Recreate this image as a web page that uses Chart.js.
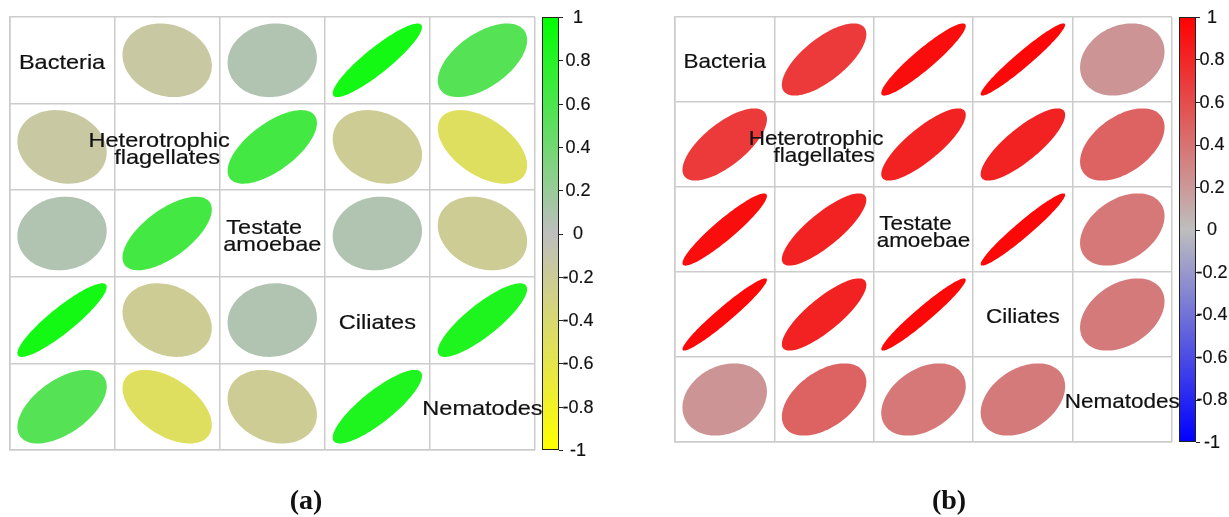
<!DOCTYPE html>
<html>
<head>
<meta charset="utf-8">
<script src="https://cdn.jsdelivr.net/npm/chart.js@4/dist/chart.umd.min.js"></script>
<style>
  body { margin: 0; background: #fff; width: 1229px; height: 517px; overflow: hidden; position: relative; }
  .panel { position: absolute; top: 0; height: 517px; }
  .tag { position: absolute; top: 484px; font: bold 28px "Liberation Serif", "DejaVu Serif", serif; color: #111; transform: translateX(-50%); }
</style>
</head>
<body>
<div class="panel" style="left:0;width:614px"><canvas id="chartA" width="614" height="517"></canvas></div>
<div class="panel" style="left:614px;width:615px"><canvas id="chartB" width="615" height="517"></canvas></div>
<div class="tag" style="left:306px">(a)</div>
<div class="tag" style="left:949px">(b)</div>
<script>
const names = ['Bacteria', 'Heterotrophic\nflagellates', 'Testate\namoebae', 'Ciliates', 'Nematodes'];

// correlation matrices, rows/cols in the order of names
const corrA = [
  [1, -0.15, 0.07, 0.9, 0.55],
  [-0.15, 1, 0.65, -0.22, -0.5],
  [0.07, 0.65, 1, 0.07, -0.22],
  [0.9, -0.22, 0.07, 1, 0.84],
  [0.55, -0.5, -0.22, 0.84, 1]
];
const corrB = [
  [1, 0.7, 0.93, 0.96, 0.22],
  [0.7, 1, 0.82, 0.82, 0.48],
  [0.93, 0.82, 1, 0.96, 0.37],
  [0.96, 0.82, 0.96, 1, 0.36],
  [0.22, 0.48, 0.37, 0.36, 1]
];

const legendTicks = [1, 0.8, 0.6, 0.4, 0.2, 0, -0.2, -0.4, -0.6, -0.8, -1];
const legendLabels = ['1', '0.8', '0.6', '0.4', '0.2', '0', '-0.2', '-0.4', '-0.6', '-0.8', '-1'];

const MID = [190, 190, 190];

function corrColor(r, neg, pos) {
  const end = r >= 0 ? pos : neg;
  const t = Math.min(1, Math.abs(r));
  const c = MID.map((m, k) => Math.round(m + (end[k] - m) * t));
  return `rgb(${c[0]},${c[1]},${c[2]})`;
}

function cellsFrom(mat) {
  const pts = [];
  mat.forEach((row, i) => row.forEach((r, j) => {
    if (i !== j) pts.push({ x: j + 0.5, y: i + 0.5, r: r });
  }));
  return pts;
}

// text with a hairline stroke, a bit heavier like the original
function boldish(ctx, txt, x, y) {
  ctx.fillText(txt, x, y);
  ctx.strokeText(txt, x, y);
}

const corrPlugin = {
  id: 'corrPlot',
  afterDatasetsDraw(chart, args, opts) {
    const ctx = chart.ctx;
    const xs = chart.scales.x, ys = chart.scales.y;
    const area = chart.chartArea;

    // ellipses (corrplot style)
    chart.data.datasets[0].data.forEach(d => {
      const a = Math.acos(Math.max(-1, Math.min(1, d.r))) / 2;
      ctx.beginPath();
      for (let k = 0; k <= 100; k++) {
        const t = (k / 100) * 2 * Math.PI;
        const px = xs.getPixelForValue(d.x + 0.85 * Math.cos(t + a) / 2);
        const py = ys.getPixelForValue(d.y - 0.85 * Math.cos(t - a) / 2);
        if (k === 0) ctx.moveTo(px, py); else ctx.lineTo(px, py);
      }
      ctx.closePath();
      ctx.fillStyle = corrColor(d.r, opts.neg, opts.pos);
      ctx.fill();
    });

    // variable names on the diagonal
    ctx.save();
    ctx.fillStyle = '#111';
    ctx.strokeStyle = '#111';
    ctx.lineWidth = 0.2;
    ctx.font = '21px "Liberation Sans", Arial, sans-serif';
    ctx.textAlign = 'center';
    ctx.textBaseline = 'alphabetic';
    names.forEach((n, i) => {
      const cx = xs.getPixelForValue(i + 0.5);
      const cy = ys.getPixelForValue(i + 0.5);
      const lines = n.split('\n');
      lines.forEach((ln, li) => {
        const by = cy + 8.5 + (li - (lines.length - 1) / 2) * 17;
        const dx = lines.length > 1 && li === 0 ? -8 : 0;
        ctx.save();
        ctx.translate(cx + dx, by);
        ctx.scale(opts.stretch, 1);
        boldish(ctx, ln, 0, 0);
        ctx.restore();
      });
    });
    ctx.restore();

    // colour legend
    const bx = area.right + 7, bw = 17;
    const top = area.top, bottom = area.bottom;
    const grad = ctx.createLinearGradient(0, top, 0, bottom);
    grad.addColorStop(0, corrColor(1, opts.neg, opts.pos));
    grad.addColorStop(0.5, corrColor(0, opts.neg, opts.pos));
    grad.addColorStop(1, corrColor(-1, opts.neg, opts.pos));
    ctx.save();
    ctx.fillStyle = grad;
    ctx.fillRect(bx, top, bw, bottom - top);
    ctx.strokeStyle = '#222';
    ctx.lineWidth = 1;
    ctx.strokeRect(bx + 0.5, top + 0.5, bw - 1, bottom - top - 1);

    ctx.fillStyle = '#111';
    ctx.font = '18px "Liberation Sans", Arial, sans-serif';
    ctx.textAlign = 'center';
    ctx.textBaseline = 'middle';
    legendTicks.forEach((v, i) => {
      const y = top + (1 - v) / 2 * (bottom - top);
      ctx.lineWidth = 1;
      ctx.beginPath();
      ctx.moveTo(bx + bw, Math.round(y) + 0.5);
      ctx.lineTo(bx + bw + 4, Math.round(y) + 0.5);
      ctx.stroke();
      ctx.lineWidth = 0.2;
      boldish(ctx, legendLabels[i], bx + bw + opts.labelOffset, y + 1);
    });
    ctx.restore();
  }
};

function makeChart(id, mat, pad, opts) {
  const grid = { color: '#cccccc', lineWidth: 1.5, drawTicks: false };
  const border = { color: '#cccccc', width: 1.5 };
  return new Chart(document.getElementById(id), {
    type: 'scatter',
    data: { datasets: [{ data: cellsFrom(mat), pointRadius: 0, pointHoverRadius: 0 }] },
    options: {
      responsive: false,
      animation: false,
      events: [],
      layout: { padding: pad },
      plugins: { legend: { display: false }, tooltip: { enabled: false }, corrPlot: opts },
      scales: {
        x: { type: 'linear', min: 0, max: 5, ticks: { display: false, stepSize: 1 }, grid: grid, border: border },
        y: { type: 'linear', min: 0, max: 5, reverse: true, ticks: { display: false, stepSize: 1 }, grid: grid, border: border }
      }
    },
    plugins: [corrPlugin]
  });
}

makeChart('chartA', corrA, { left: 9.5, right: 79, top: 17, bottom: 67 },
  { neg: [255, 255, 0], pos: [0, 255, 0], stretch: 1.12, labelOffset: 19 });
makeChart('chartB', corrB, { left: 61, right: 57, top: 17, bottom: 75 },
  { neg: [0, 0, 255], pos: [255, 0, 0], stretch: 1.07, labelOffset: 16 });
</script>
</body>
</html>
